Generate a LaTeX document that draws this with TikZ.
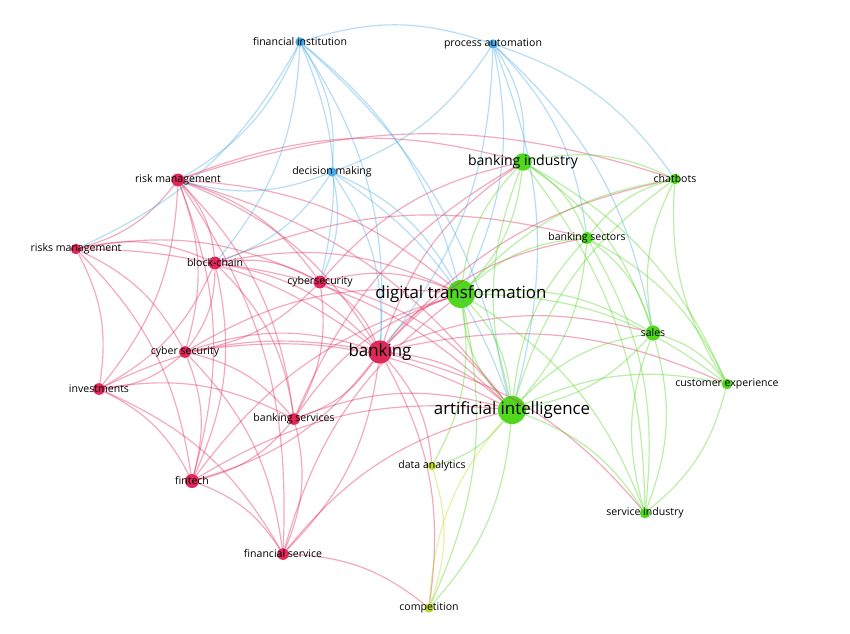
\documentclass[tikz,border=0pt]{standalone}
\usepackage{fontspec}
\setmainfont{Open Sans}
\definecolor{vred}{RGB}{225,40,90}
\definecolor{vblue}{RGB}{70,170,230}
\definecolor{vgreen}{RGB}{80,215,30}
\definecolor{vyellow}{RGB}{190,220,30}
\tikzset{
  dot/.style={circle,fill=#1,inner sep=0pt,minimum size=9pt},
  lbl/.style={font=\small,inner sep=1pt},
  big/.style={font=\large,inner sep=1pt},
  link/.style={draw=#1,opacity=.4,line width=1pt,bend left=18}
}
\begin{document}
\begin{tikzpicture}[x=0.03cm,y=-0.03cm]
\fill[white] (0,0) rectangle (850,633);
% nodes
\foreach \n/\x/\y/\c/\s in {
  fi/300/42/vblue/8pt, pa/493/44/vblue/8pt, dm/332/172/vblue/8pt,
  rm/178/180/vred/11pt, rsm/76/249/vred/9pt, bc/215/263/vred/11pt,
  cys/320/282/vred/11pt, cs/185/352/vred/10pt, bk/380/352/vred/20pt,
  inv/99/389/vred/10pt, bs/294/419/vred/10pt, ft/192/481/vred/12pt,
  fs/283/554/vred/10pt, comp/429/608/vyellow/8pt, da/432/466/vyellow/7pt,
  bi/523/162/vgreen/15pt, cb/675/179/vgreen/9pt, bsec/587/238/vgreen/10pt,
  dt/461/294/vgreen/24pt, sal/653/333/vgreen/13pt, cx/727/384/vgreen/9pt,
  ai/512/410/vgreen/24pt, si/645/513/vgreen/9pt}
  \node[dot=\c,minimum size=\s] (\n) at (\x,\y) {};
% links
\foreach \a/\b in {rm/rsm,rm/bc,rm/cs,rm/inv,rm/ft,rm/bk,rm/dt,rm/bi,rm/ai,rm/cys,rm/fs,rm/bs,rm/cb,
  rsm/bc,rsm/inv,rsm/ft,rsm/cs,rsm/bk,rsm/cys,bc/cs,bc/inv,bc/ft,bc/bk,bc/cys,bc/bs,bc/dt,bc/ai,bc/bsec,
  cys/bk,cys/cs,cys/bs,cys/dt,cys/ai,cys/bi,cs/inv,cs/ft,cs/bk,cs/bs,cs/fs,cs/dt,cs/ai,
  bk/bs,bk/ft,bk/fs,bk/dt,bk/ai,bk/da,bk/comp,bk/bi,bk/bsec,bk/sal,bk/cx,bk/si,bk/cb,
  inv/ft,inv/bs,inv/fs,inv/bk,bs/ft,bs/fs,bs/ai,bs/dt,bs/bi,ft/fs,ft/ai,ft/dt,fs/comp,fs/ai,fs/dt}
  \draw[link=vred] (\a) to (\b);
\foreach \a/\b in {fi/pa,fi/rm,fi/dm,fi/bc,fi/bk,fi/dt,fi/ai,fi/rsm,fi/cys,
  pa/dm,pa/dt,pa/ai,pa/bi,pa/cb,pa/bk,pa/sal,pa/bsec,dm/bk,dm/dt,dm/rm,dm/ai,dm/cys,dm/bc}
  \draw[link=vblue] (\a) to (\b);
\foreach \a/\b in {dt/bi,dt/bsec,dt/cb,dt/sal,dt/cx,dt/ai,dt/si,dt/da,dt/comp,
  ai/bi,ai/bsec,ai/cb,ai/sal,ai/cx,ai/si,ai/da,ai/comp,bi/cb,bi/bsec,bi/sal,bi/cx,bi/si,
  bsec/cb,bsec/sal,bsec/cx,bsec/si,sal/cb,sal/cx,sal/si,cx/cb,cx/si,
  bi/dt,ai/dt,sal/ai,bsec/ai,si/sal}
  \draw[link=vgreen] (\a) to (\b);
\draw[link=vyellow] (da) to (comp);
\draw[link=vyellow] (comp) to (ai);
% labels
\foreach \n/\t in {fi/financial institution, pa/process automation, dm/decision making,
  rm/risk management, rsm/risks management, bc/block-chain, cys/cybersecurity,
  cs/cyber security, inv/investments, bs/banking services, ft/fintech,
  fs/financial service, comp/competition, da/data analytics, cb/chatbots,
  bsec/banking sectors, sal/sales, cx/customer experience, si/service industry}
  \node[lbl] at (\n) {\t};
\node[big] at (bi) {banking industry};
\node[big,font=\Large] at (dt) {digital transformation};
\node[big,font=\Large] at (ai) {artificial intelligence};
\node[big,font=\Large] at (bk) {banking};
\end{tikzpicture}
\end{document}
